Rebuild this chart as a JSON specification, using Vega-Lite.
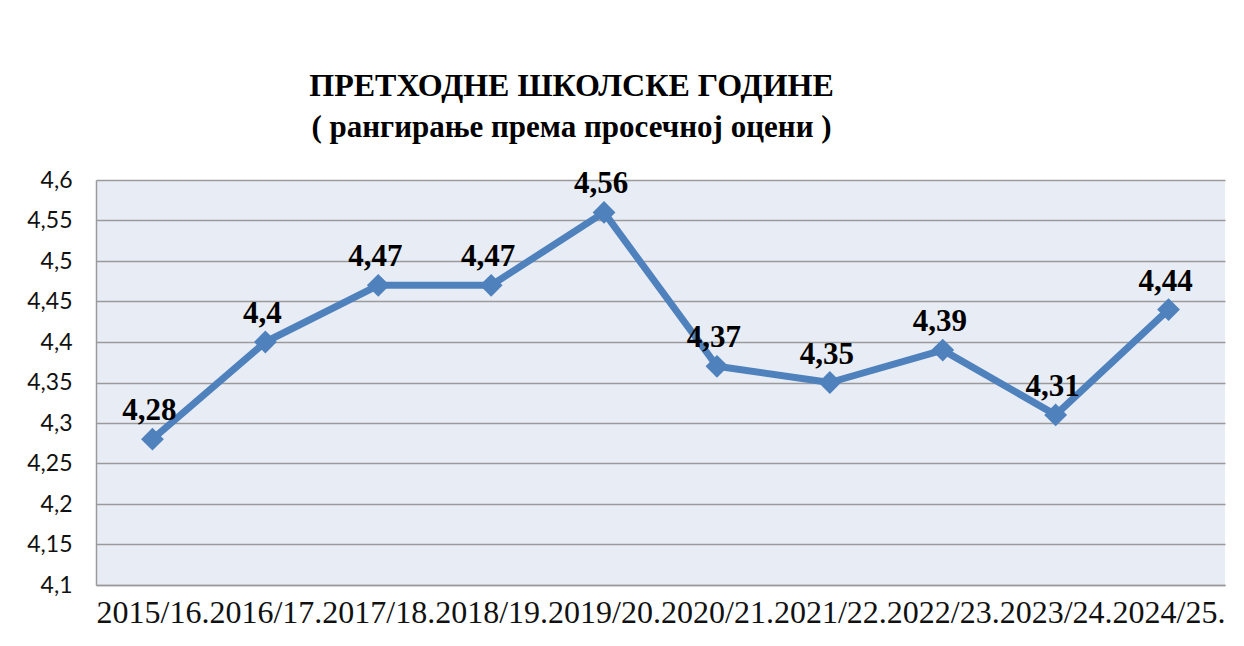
{
  "$schema": "https://vega.github.io/schema/vega-lite/v6.json",
  "autosize": {"type": "none"},
  "width": 1129,
  "height": 405,
  "padding": {"left": 96, "top": 180, "right": 19, "bottom": 61},
  "background": "white",
  "config": {
    "locale": {"number": {"decimal": ",", "thousands": ".", "grouping": [3], "currency": ["", " €"]}},
    "view": {"fill": "#e8ecf4", "stroke": null}
  },
  "title": {
    "text": "ПРЕТХОДНЕ  ШКОЛСКЕ  ГОДИНЕ",
    "subtitle": "( рангирање према просечној  оцени )",
    "anchor": "middle",
    "frame": "group",
    "dx": -89,
    "offset": 24,
    "font": "Liberation Serif",
    "fontSize": 32,
    "fontWeight": "bold",
    "color": "black",
    "subtitleFont": "Liberation Serif",
    "subtitleFontSize": 31,
    "subtitleFontWeight": "bold",
    "subtitleColor": "black",
    "subtitlePadding": 10
  },
  "data": {
    "values": [
      {"year": "2015/16.", "value": 4.28},
      {"year": "2016/17.", "value": 4.40},
      {"year": "2017/18.", "value": 4.47},
      {"year": "2018/19.", "value": 4.47},
      {"year": "2019/20.", "value": 4.56},
      {"year": "2020/21.", "value": 4.37},
      {"year": "2021/22.", "value": 4.35},
      {"year": "2022/23.", "value": 4.39},
      {"year": "2023/24.", "value": 4.31},
      {"year": "2024/25.", "value": 4.44}
    ]
  },
  "encoding": {
    "x": {
      "field": "year",
      "type": "ordinal",
      "sort": null,
      "scale": {"type": "point", "padding": 0.5},
      "axis": {
        "title": null,
        "labelAngle": 0,
        "labelFont": "Liberation Serif",
        "labelFontSize": 32,
        "labelColor": "#111111",
        "labelPadding": 12,
        "labelOverlap": false,
        "labelLimit": 300,
        "ticks": false,
        "domain": true,
        "domainColor": "#9a9a9a",
        "domainWidth": 1.5,
        "grid": false
      }
    },
    "y": {
      "field": "value",
      "type": "quantitative",
      "scale": {"domain": [4.1, 4.6], "nice": false, "zero": false},
      "axis": {
        "title": null,
        "values": [4.1, 4.15, 4.2, 4.25, 4.3, 4.35, 4.4, 4.45, 4.5, 4.55, 4.6],
        "format": "~r",
        "labelFont": "Lato",
        "labelFontSize": 23,
        "labelColor": "#111111",
        "labelPadding": 24,
        "ticks": false,
        "domain": true,
        "domainColor": "#9a9a9a",
        "domainWidth": 1.5,
        "grid": true,
        "gridColor": "#9a9a9a",
        "gridWidth": 1.5
      }
    }
  },
  "layer": [
    {
      "mark": {"type": "line", "color": "#4f81bd", "strokeWidth": 7, "strokeJoin": "round"}
    },
    {
      "mark": {"type": "point", "shape": "diamond", "filled": true, "color": "#4f81bd", "size": 520, "opacity": 1}
    },
    {
      "mark": {"type": "text", "font": "Liberation Serif", "fontSize": 31, "fontWeight": "bold", "color": "black", "baseline": "alphabetic", "dy": -19, "dx": -3},
      "encoding": {
        "text": {"field": "value", "type": "quantitative", "format": "~r"}
      }
    }
  ]
}
